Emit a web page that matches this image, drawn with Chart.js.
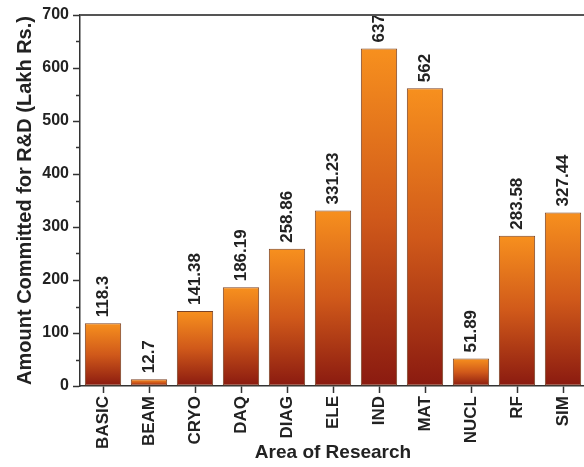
<!DOCTYPE html>
<html>
<head>
<meta charset="utf-8">
<script src="https://cdn.jsdelivr.net/npm/chart.js@4"></script>
<style>
  html, body { margin: 0; padding: 0; background: #fff; overflow: hidden; }
  #wrap { width: 600px; height: 467px; }
</style>
</head>
<body>
<div id="wrap"><canvas id="chart" width="600" height="467"></canvas></div>
<script>
// Data
const areas = ['BASIC', 'BEAM', 'CRYO', 'DAQ', 'DIAG', 'ELE', 'IND', 'MAT', 'NUCL', 'RF', 'SIM'];
const amounts = [118.3, 12.7, 141.38, 186.19, 258.86, 331.23, 637, 562, 51.89, 283.58, 327.44];
const yTicks = [0, 100, 200, 300, 400, 500, 600, 700];
const yMinorTicks = [50, 150, 250, 350, 450, 550, 650];

const FONT = '"Liberation Sans", Arial, sans-serif';
const INK = '#222';

// Orange-to-maroon gradient, one per bar
function barGradient(ctx) {
  const chart = ctx.chart;
  if (!chart.chartArea || ctx.raw === undefined) return '#e07a1c';
  const y = chart.scales.y;
  const top = y.getPixelForValue(ctx.raw);
  const bottom = y.getPixelForValue(0);
  const g = chart.ctx.createLinearGradient(0, top, 0, bottom);
  g.addColorStop(0, '#f7901e');
  g.addColorStop(0.5, '#d0591a');
  g.addColorStop(1, '#8a1a10');
  return g;
}

// Rotated value labels above each bar
const valueLabels = {
  id: 'valueLabels',
  afterDatasetsDraw(chart) {
    const ctx = chart.ctx;
    const area = chart.chartArea;
    const meta = chart.getDatasetMeta(0);
    ctx.save();
    ctx.beginPath();
    ctx.rect(area.left, area.top, area.right - area.left, area.bottom - area.top);
    ctx.clip();
    ctx.font = 'bold 17px ' + FONT;
    ctx.fillStyle = INK;
    ctx.textAlign = 'left';
    ctx.textBaseline = 'middle';
    meta.data.forEach((bar, i) => {
      ctx.save();
      ctx.translate(bar.x, bar.y - 6);
      ctx.rotate(-Math.PI / 2);
      ctx.fillText(String(amounts[i]), 0, 0);
      ctx.restore();
    });
    ctx.restore();
  }
};

// Minor ticks on the y axis and the top/right frame
const frameAndMinor = {
  id: 'frameAndMinor',
  afterDraw(chart) {
    const ctx = chart.ctx;
    const area = chart.chartArea;
    const y = chart.scales.y;
    ctx.save();
    ctx.strokeStyle = '#333';
    ctx.lineWidth = 1.5;
    yMinorTicks.forEach(v => {
      const py = Math.round(y.getPixelForValue(v)) + 0.5;
      ctx.beginPath();
      ctx.moveTo(area.left - 4, py);
      ctx.lineTo(area.left, py);
      ctx.stroke();
    });
    ctx.strokeStyle = '#555';
    ctx.lineWidth = 2;
    ctx.beginPath();
    ctx.moveTo(area.left, area.top);
    ctx.lineTo(area.right, area.top);
    ctx.lineTo(area.right, area.bottom);
    ctx.stroke();
    ctx.restore();
  }
};

new Chart(document.getElementById('chart'), {
  type: 'bar',
  data: {
    labels: areas,
    datasets: [{
      data: amounts,
      backgroundColor: barGradient,
      borderColor: '#7a4326',
      borderWidth: 1,
      borderSkipped: false,
      barPercentage: 0.79,
      categoryPercentage: 1
    }]
  },
  options: {
    responsive: false,
    animation: false,
    devicePixelRatio: 1,
    layout: { padding: { top: 15, right: 14, left: 0, bottom: 0 } },
    plugins: {
      legend: { display: false },
      tooltip: { enabled: false }
    },
    scales: {
      x: {
        afterFit(scale) { scale.height = 81; },
        grid: {
          offset: false,
          drawOnChartArea: false,
          tickLength: 7,
          tickColor: '#333',
          tickWidth: 1.5
        },
        border: { color: '#333', width: 1.5 },
        ticks: {
          autoSkip: false,
          minRotation: 90,
          maxRotation: 90,
          padding: 3,
          color: INK,
          font: { family: FONT, size: 17, weight: 'bold' }
        },
        title: {
          display: true,
          text: 'Area of Research',
          color: INK,
          padding: { top: 0, bottom: 3 },
          font: { family: FONT, size: 19, weight: 'bold' }
        }
      },
      y: {
        min: 0,
        max: 700,
        afterFit(scale) { scale.width = 80; },
        afterBuildTicks(scale) { scale.ticks = yTicks.map(v => ({ value: v })); },
        grid: {
          drawOnChartArea: false,
          tickLength: 7,
          tickColor: '#333',
          tickWidth: 1.5
        },
        border: { color: '#333', width: 1.5 },
        ticks: {
          padding: 4,
          color: INK,
          font: { family: FONT, size: 16, weight: 'bold' }
        },
        title: {
          display: true,
          text: 'Amount Committed for R&D (Lakh Rs.)',
          color: INK,
          padding: { top: 13, bottom: 0 },
          font: { family: FONT, size: 20, weight: 'bold' }
        }
      }
    }
  },
  plugins: [valueLabels, frameAndMinor]
});
</script>
</body>
</html>
